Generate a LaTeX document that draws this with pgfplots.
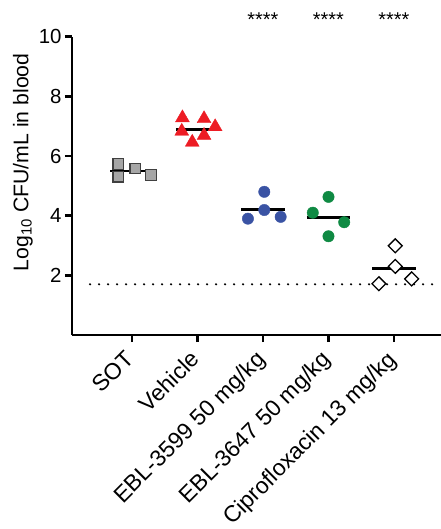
\documentclass[border=0pt]{standalone}
\usepackage{pgfplots}
\pgfplotsset{compat=1.18}
\usepackage{fontspec}
\setmainfont{Liberation Sans}
\definecolor{cred}{HTML}{ED1C24}
\definecolor{cblue}{HTML}{3A53A4}
\definecolor{cgreen}{HTML}{0F8A43}
\definecolor{cgray}{HTML}{A6A6A6}
\begin{document}
\begin{tikzpicture}
\begin{axis}[
  at={(0,0)}, anchor=south west,
  scale only axis, width=369bp, height=298.3bp,
  xmin=-0.916, xmax=4.718, ymin=0, ymax=10,
  axis x line*=bottom, axis y line*=left,
  axis line style={-, line width=2.6bp, black},
  tick style={line width=2.6bp, black},
  major tick length=7bp, tick align=outside,
  xtick={0,1,2,3,4},
  xticklabels={SOT, Vehicle, EBL-3599 50 mg/kg, EBL-3647 50 mg/kg, Ciprofloxacin 13 mg/kg},
  xticklabel style={rotate=45, anchor=north east, font=\fontsize{23}{23}\selectfont, inner sep=0bp, yshift=1bp, xshift=-10.8bp},
  ytick={2,4,6,8,10},
  yticklabel style={font=\fontsize{20.5}{20.5}\selectfont},
  /pgf/number format/assume math mode=true,
  ylabel={Log\textsubscript{10} CFU/mL in blood},
  ylabel style={at={(axis description cs:-0.133,0.579)}, anchor=center, font=\fontsize{21.3}{21.3}\selectfont},
  clip=false,
]
% detection limit
\addplot[line width=2.4bp, dash pattern=on 0bp off 9bp, line cap=round] coordinates {(-0.64,1.7) (4.718,1.7)};
% mean lines
\addplot[line width=2.8bp] coordinates {(-0.33,5.50) (0.33,5.50)};
\addplot[line width=2.8bp] coordinates {(0.67,6.89) (1.33,6.89)};
\addplot[line width=2.8bp] coordinates {(1.67,4.21) (2.33,4.21)};
\addplot[line width=2.8bp] coordinates {(2.67,3.95) (3.33,3.95)};
\addplot[line width=2.8bp] coordinates {(3.67,2.23) (4.33,2.23)};
% SOT
\addplot[only marks, mark=square*, mark size=5.3bp, mark options={fill=cgray, draw=black!75, line width=1.2bp}]
  coordinates {(-0.21,5.73) (-0.21,5.31) (0.05,5.58) (0.29,5.37)};
% Vehicle
\addplot[only marks, mark=triangle*, mark size=8bp, mark options={fill=cred, draw=cred}]
  coordinates {(0.77,7.28) (1.10,7.25) (1.27,6.98) (0.76,6.83) (1.10,6.69) (0.92,6.46)};
% EBL-3599
\addplot[only marks, mark=*, mark size=5.7bp, mark options={fill=cblue, draw=cblue}]
  coordinates {(2.02,4.80) (2.02,4.19) (1.77,3.90) (2.27,3.96)};
% EBL-3647
\addplot[only marks, mark=*, mark size=5.7bp, mark options={fill=cgreen, draw=cgreen}]
  coordinates {(3.00,4.63) (2.76,4.10) (3.24,3.78) (3.00,3.31)};
% Ciprofloxacin
\addplot[only marks, mark=square*, mark size=4.9bp, mark options={rotate=45, fill=white, draw=black, line width=1.3bp}]
  coordinates {(4.02,2.99) (4.02,2.30) (3.77,1.72) (4.27,1.88)};
\node[anchor=base, font=\fontsize{20}{20}\selectfont] at (axis cs:2,10.33) {****};
\node[anchor=base, font=\fontsize{20}{20}\selectfont] at (axis cs:3,10.33) {****};
\node[anchor=base, font=\fontsize{20}{20}\selectfont] at (axis cs:4,10.33) {****};
\end{axis}
\pgfresetboundingbox
\path[use as bounding box] (-72bp,-194bp) rectangle (369bp,335bp);
\end{tikzpicture}
\end{document}
